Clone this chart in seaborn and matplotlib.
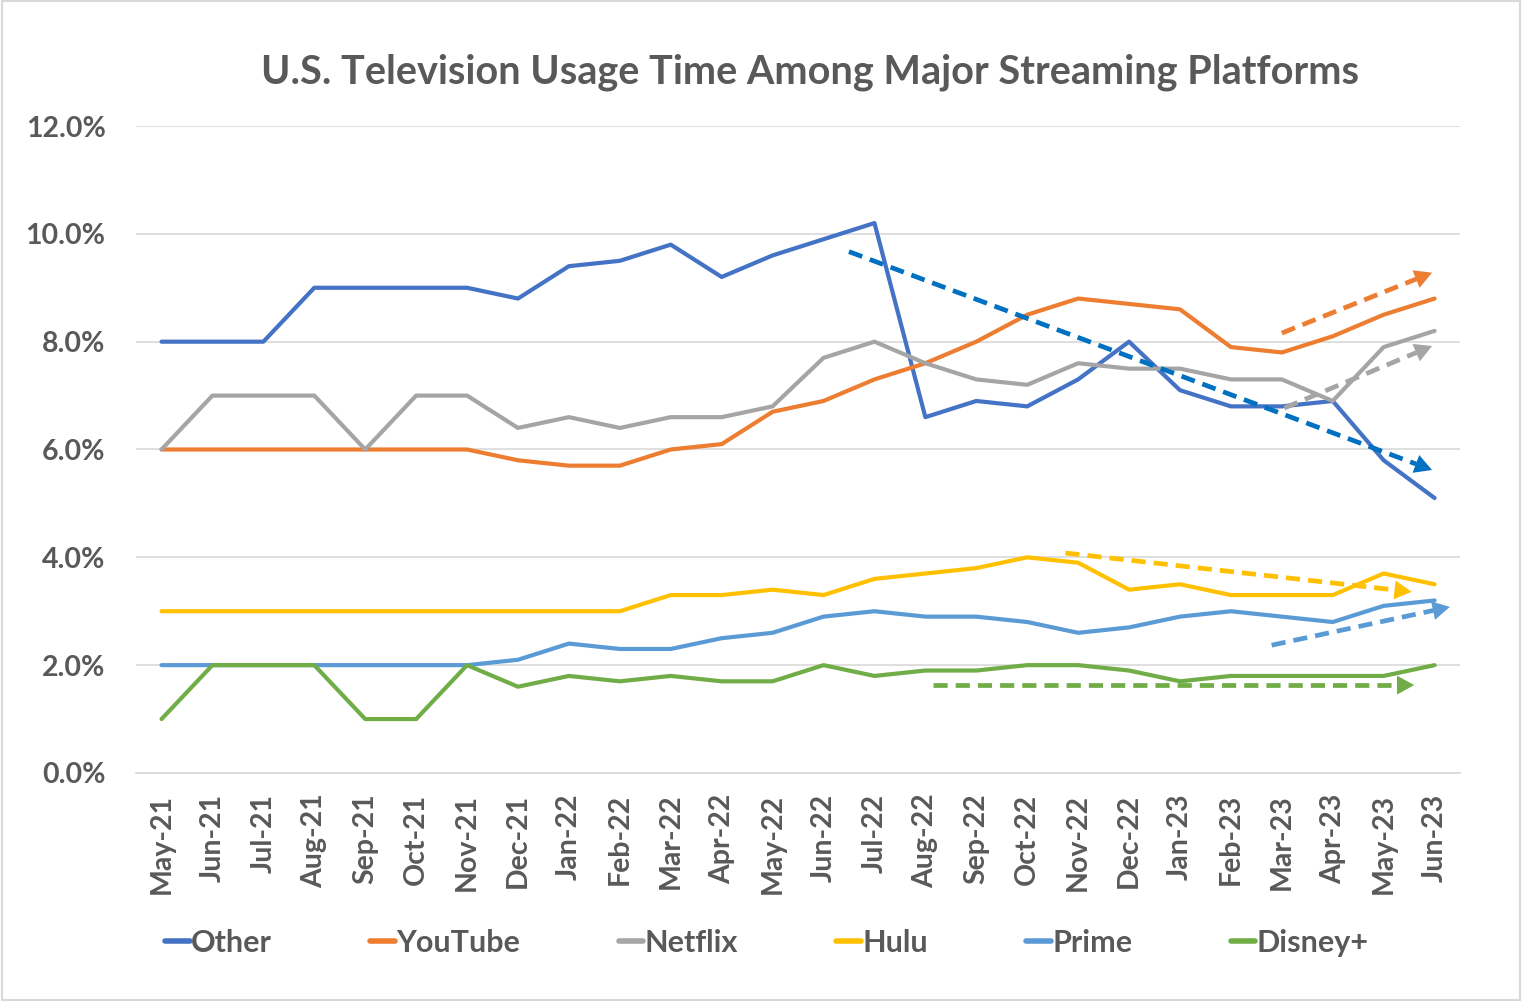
import numpy as np
import pandas as pd
import seaborn as sns
import matplotlib.pyplot as plt
from matplotlib.ticker import PercentFormatter

# Monthly share of U.S. TV usage time (%)
months = ['May-21', 'Jun-21', 'Jul-21', 'Aug-21', 'Sep-21', 'Oct-21', 'Nov-21', 'Dec-21',
          'Jan-22', 'Feb-22', 'Mar-22', 'Apr-22', 'May-22', 'Jun-22', 'Jul-22', 'Aug-22',
          'Sep-22', 'Oct-22', 'Nov-22', 'Dec-22', 'Jan-23', 'Feb-23', 'Mar-23', 'Apr-23',
          'May-23', 'Jun-23']
other = [8.0, 8.0, 8.0, 9.0, 9.0, 9.0, 9.0, 8.8, 9.4, 9.5, 9.8, 9.2, 9.6, 9.9, 10.2, 6.6,
         6.9, 6.8, 7.3, 8.0, 7.1, 6.8, 6.8, 6.9, 5.8, 5.1]
youtube = [6.0, 6.0, 6.0, 6.0, 6.0, 6.0, 6.0, 5.8, 5.7, 5.7, 6.0, 6.1, 6.7, 6.9, 7.3, 7.6,
           8.0, 8.5, 8.8, 8.7, 8.6, 7.9, 7.8, 8.1, 8.5, 8.8]
netflix = [6.0, 7.0, 7.0, 7.0, 6.0, 7.0, 7.0, 6.4, 6.6, 6.4, 6.6, 6.6, 6.8, 7.7, 8.0, 7.6,
           7.3, 7.2, 7.6, 7.5, 7.5, 7.3, 7.3, 6.9, 7.9, 8.2]
hulu = [3.0, 3.0, 3.0, 3.0, 3.0, 3.0, 3.0, 3.0, 3.0, 3.0, 3.3, 3.3, 3.4, 3.3, 3.6, 3.7,
        3.8, 4.0, 3.9, 3.4, 3.5, 3.3, 3.3, 3.3, 3.7, 3.5]
prime = [2.0, 2.0, 2.0, 2.0, 2.0, 2.0, 2.0, 2.1, 2.4, 2.3, 2.3, 2.5, 2.6, 2.9, 3.0, 2.9,
         2.9, 2.8, 2.6, 2.7, 2.9, 3.0, 2.9, 2.8, 3.1, 3.2]
disney = [1.0, 2.0, 2.0, 2.0, 1.0, 1.0, 2.0, 1.6, 1.8, 1.7, 1.8, 1.7, 1.7, 2.0, 1.8, 1.9,
          1.9, 2.0, 2.0, 1.9, 1.7, 1.8, 1.8, 1.8, 1.8, 2.0]

platforms = ['Other', 'YouTube', 'Netflix', 'Hulu', 'Prime', 'Disney+']
colors = ['#4472C4', '#ED7D31', '#A5A5A5', '#FFC000', '#5B9BD5', '#70AD47']

# hand-drawn trend arrows: (start month index, start %, end month index, end %)
trend_other = (13.5, 9.67, 24.95, 5.62)
trend_youtube = (22.0, 8.16, 24.95, 9.28)
trend_netflix = (22.05, 6.77, 24.95, 7.92)
trend_hulu = (17.75, 4.08, 24.55, 3.36)
trend_prime = (21.8, 2.37, 25.3, 3.08)
trend_disney = (15.15, 1.63, 24.6, 1.63)
trend_colors = ['#0070C0', '#ED7D31', '#A5A5A5', '#FFC000', '#5B9BD5', '#70AD47']

df = pd.DataFrame({'Month': months, 'Other': other, 'YouTube': youtube, 'Netflix': netflix,
                   'Hulu': hulu, 'Prime': prime, 'Disney+': disney})
long_df = df.melt(id_vars='Month', var_name='Platform', value_name='Share')
long_df['idx'] = long_df['Month'].map({m: i for i, m in enumerate(months)})

sns.set_style('white')
plt.rcParams['font.family'] = ['Lato', 'DejaVu Sans']

fig = plt.figure(figsize=(15.22, 10.01), dpi=100)
ax = fig.add_axes([0.0894, 0.2278, 0.8699, 0.6463])

sns.lineplot(data=long_df, x='idx', y='Share', hue='Platform', hue_order=platforms,
             palette=colors, linewidth=3.0, ax=ax, legend=False)

ax.set_xlim(-0.5, 25.5)
ax.set_ylim(0, 12)

# trend arrows: dashed shaft stops where the solid head begins
head_px = 17
for (x0, y0, x1, y1), c in zip([trend_other, trend_youtube, trend_netflix, trend_hulu,
                                 trend_prime, trend_disney], trend_colors):
    p0 = ax.transData.transform((x0, y0))
    p1 = ax.transData.transform((x1, y1))
    d = (p1 - p0) / np.hypot(*(p1 - p0))
    xm, ym = ax.transData.inverted().transform(p1 - d * head_px)
    ax.plot([x0, xm], [y0, ym], color=c, lw=3.4, ls=(0, (3, 1.7)), solid_capstyle='butt')
    ax.annotate('', xy=(x1, y1), xytext=(xm, ym),
                arrowprops=dict(arrowstyle='-|>,head_length=0.62,head_width=0.34',
                                mutation_scale=20, color=c, lw=0, shrinkA=0, shrinkB=0))

ax.set_yticks(np.arange(0, 12.1, 2))
ax.yaxis.set_major_formatter(PercentFormatter(decimals=1))
ax.set_xticks(range(len(months)))
ax.set_xticklabels(months, rotation=90)
ax.set_xticks(np.arange(-0.5, 25.6, 1), minor=True)
ax.tick_params(axis='x', which='major', length=0, pad=15)
ax.tick_params(axis='x', which='minor', length=10, color='#D9D9D9', width=1.2)
ax.tick_params(axis='y', length=0, pad=22)
for lab in ax.get_xticklabels() + ax.get_yticklabels():
    lab.set_fontsize(20.5)
    lab.set_fontweight('bold')
    lab.set_color('#595959')
ax.grid(axis='y', color='#D9D9D9', lw=1.2)
ax.set_axisbelow(True)
for s in ['top', 'right', 'left']:
    ax.spines[s].set_visible(False)
ax.spines['bottom'].set_color('#D9D9D9')
ax.spines['bottom'].set_linewidth(1.2)
ax.set_xlabel('')
ax.set_ylabel('')

fig.text(0.532, 0.928, 'U.S. Television Usage Time Among Major Streaming Platforms',
         ha='center', va='center', fontsize=28.5, fontweight='bold', color='#595959')

handles = [plt.Line2D([], [], color=c, lw=4) for c in colors]
fig.legend(handles, platforms, loc='center', bbox_to_anchor=(0.504, 0.058), ncol=6,
           frameon=False, handlelength=0.8, handletextpad=0.05, columnspacing=3.22,
           prop={'size': 22, 'weight': 'bold'}, labelcolor='#595959')

# outer border like the original chart frame
fig.patches.append(plt.Rectangle((0.001, 0.001), 0.998, 0.998, transform=fig.transFigure,
                                 fill=False, edgecolor='#D9D9D9', lw=1.5))

fig.savefig('out.png', dpi=100)
